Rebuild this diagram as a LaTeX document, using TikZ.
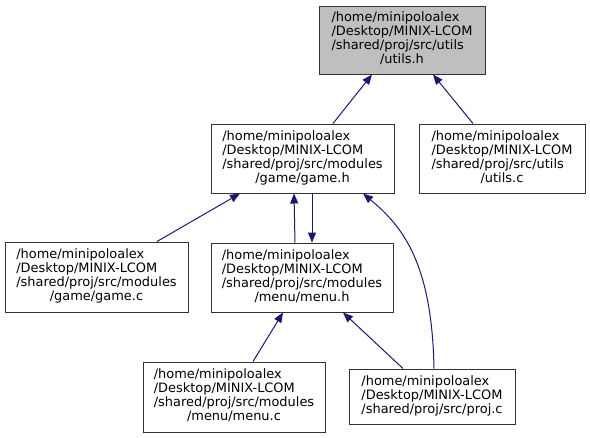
\documentclass[tikz,border=0pt]{standalone}
\usepackage{fontspec}
\setmainfont{DejaVu Sans}
\usetikzlibrary{arrows.meta, calc}
\definecolor{edgeblue}{HTML}{191970}
\definecolor{boxgray}{HTML}{BFBFBF}
\newcommand{\fourlines}[4]{\begin{tabular}{@{}l@{}}#1\\#2\\#3\\\multicolumn{1}{@{}c@{}}{#4}\end{tabular}}

\begin{document}
\begin{tikzpicture}[x=0.75pt, y=-0.75pt,
    file/.style={draw=black!80, fill=white, line width=0.75pt, inner sep=0pt,
      font=\fontsize{9.7}{10.5}\selectfont},
    inc/.style={edgeblue, line width=0.75pt, {Triangle[length=7.5pt,width=6pt]}-}]
  \useasboundingbox (0,0) rectangle (590,437);

  % Top row
  \node[file, fill=boxgray, minimum width=124.5pt, minimum height=51pt] (utilsh) at (402,40)
    {\fourlines{/home/minipoloalex}{/Desktop/MINIX-LCOM}{/shared/proj/src/utils}{/utils.h}};

  % Second row
  \node[file, minimum width=137.25pt, minimum height=51.75pt] (gameh) at (302.5,158.5)
    {\fourlines{/home/minipoloalex}{/Desktop/MINIX-LCOM}{/shared/proj/src/modules}{/game/game.h}};
  \node[file, minimum width=124.5pt, minimum height=51.75pt] (utilsc) at (502,158.5)
    {\fourlines{/home/minipoloalex}{/Desktop/MINIX-LCOM}{/shared/proj/src/utils}{/utils.c}};

  % Third row
  \node[file, minimum width=137.25pt, minimum height=52.5pt] (gamec) at (96.5,277)
    {\fourlines{/home/minipoloalex}{/Desktop/MINIX-LCOM}{/shared/proj/src/modules}{/game/game.c}};
  \node[file, minimum width=136.5pt, minimum height=51.75pt] (menuh) at (302,277.5)
    {\fourlines{/home/minipoloalex}{/Desktop/MINIX-LCOM}{/shared/proj/src/modules}{/menu/menu.h}};

  % Bottom row
  \node[file, minimum width=136.5pt, minimum height=52.5pt] (menuc) at (234,397)
    {\fourlines{/home/minipoloalex}{/Desktop/MINIX-LCOM}{/shared/proj/src/modules}{/menu/menu.c}};
  \node[file, minimum width=124.5pt, minimum height=41.25pt] (projc) at (432,396.5)
    {\begin{tabular}{@{}l@{}}/home/minipoloalex\\/Desktop/MINIX-LCOM\\/shared/proj/src/proj.c\end{tabular}};

  % Include edges
  \draw[inc] ($(utilsh.south)+(-30,0)$) -- ($(gameh.north)+(30.5,0)$);
  \draw[inc] ($(utilsh.south)+(31,0)$) -- ($(utilsc.north)+(-29,0)$);
  \draw[inc] ($(gameh.south)+(-62.5,0)$) -- ($(gamec.north)+(60.5,0)$);
  \draw[inc] ($(gameh.south)+(-8.5,0)$) -- ($(menuh.north)+(-7,0)$);
  \draw[inc] ($(menuh.north)+(10,0)$) -- ($(gameh.south)+(9.5,0)$);
  \draw[inc] ($(gameh.south)+(60.5,0)$) .. controls (402,226) and (432,262) .. ($(projc.north)+(2,0)$);
  \draw[inc] ($(menuh.south)+(-19,0)$) -- ($(menuc.north)+(19,0)$);
  \draw[inc] ($(menuh.south)+(41,0)$) -- ($(projc.north)+(-29,0)$);
\end{tikzpicture}
\end{document}
